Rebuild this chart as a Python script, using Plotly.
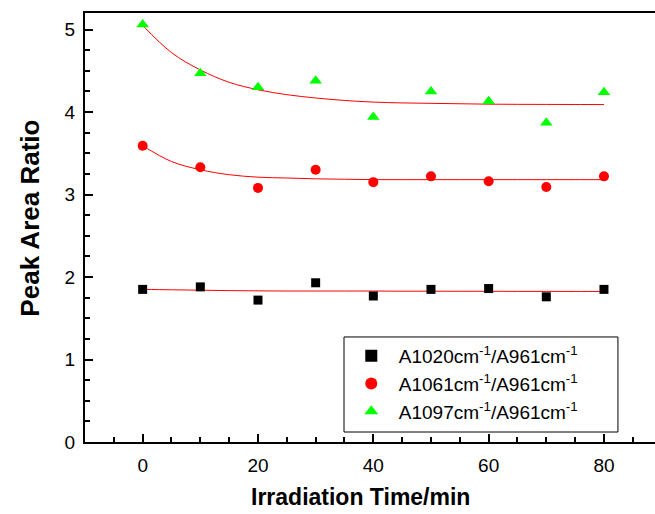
import plotly.graph_objects as go

time_min = [0, 10, 20, 30, 40, 50, 60, 70, 80]
ratio_1020 = [1.85, 1.88, 1.72, 1.93, 1.77, 1.85, 1.86, 1.76, 1.85]
ratio_1061 = [3.59, 3.33, 3.08, 3.30, 3.15, 3.22, 3.16, 3.09, 3.22]
ratio_1097 = [5.06, 4.47, 4.30, 4.38, 3.94, 4.25, 4.13, 3.87, 4.24]

# fitted curves
fit_time = [0, 5, 10, 15, 20, 25, 30, 35, 40, 45, 50, 55, 60, 65, 70, 75, 80]
fit_1020 = [1.85, 1.845, 1.84, 1.835, 1.832, 1.83, 1.83, 1.83, 1.83, 1.828, 1.828, 1.827, 1.827, 1.826, 1.826, 1.825, 1.825]
fit_1061 = [3.59, 3.40, 3.30, 3.24, 3.21, 3.20, 3.19, 3.185, 3.18, 3.18, 3.18, 3.18, 3.18, 3.18, 3.18, 3.18, 3.18]
fit_1097 = [5.05, 4.72, 4.51, 4.36, 4.27, 4.21, 4.17, 4.14, 4.12, 4.11, 4.105, 4.10, 4.095, 4.093, 4.092, 4.091, 4.09]

names = ["A1020cm<sup>-1</sup>/A961cm<sup>-1</sup>",
         "A1061cm<sup>-1</sup>/A961cm<sup>-1</sup>",
         "A1097cm<sup>-1</sup>/A961cm<sup>-1</sup>"]

fig = go.Figure()
for fit in (fit_1020, fit_1061, fit_1097):
    fig.add_trace(go.Scatter(x=fit_time, y=fit, mode="lines", line=dict(color="red", width=1, shape="spline"),
                             showlegend=False, hoverinfo="skip"))

fig.add_trace(go.Scatter(x=time_min, y=ratio_1020, mode="markers", name=names[0],
                         marker=dict(symbol="square", color="black", size=9)))
fig.add_trace(go.Scatter(x=time_min, y=ratio_1061, mode="markers", name=names[1],
                         marker=dict(symbol="circle", color="red", size=10)))
fig.add_trace(go.Scatter(x=time_min, y=ratio_1097, mode="markers", name=names[2],
                         marker=dict(symbol="triangle-up", color="#00ff00", size=11)))

fig.update_layout(
    width=655, height=514,
    margin=dict(l=85, r=0, t=13, b=72),
    paper_bgcolor="white", plot_bgcolor="white",
    font=dict(family="Liberation Sans, Arial", color="black"),
    legend=dict(x=0.454, y=0.245, xanchor="left", yanchor="top",
                borderwidth=0, bgcolor="rgba(0,0,0,0)",
                font=dict(size=19), itemsizing="constant", itemwidth=45),
    shapes=[dict(type="rect", xref="paper", yref="paper", x0=0.4544, x1=0.935, y0=0.0233, y1=0.2448,
                 line=dict(color="black", width=1), fillcolor="white", layer="below")],
    xaxis=dict(range=[-10, 88.85], tickvals=[0, 20, 40, 60, 80], ticks="inside", ticklen=8, tickwidth=1.5,
               tickcolor="black", showline=True, linecolor="black", linewidth=2, mirror=True,
               showgrid=False, zeroline=False, tickfont=dict(size=19), automargin=False,
               ticklabelstandoff=5,
               minor=dict(dtick=5, tick0=0, ticks="inside", ticklen=5, tickwidth=1.5, tickcolor="black")),
    yaxis=dict(range=[0, 5.2], tickvals=[0, 1, 2, 3, 4, 5], ticks="inside", ticklen=8, tickwidth=1.5,
               tickcolor="black", showline=True, linecolor="black", linewidth=2, mirror=False,
               showgrid=False, zeroline=False, tickfont=dict(size=19), automargin=False,
               ticklabelstandoff=4,
               minor=dict(dtick=0.25, tick0=0, ticks="inside", ticklen=5, tickwidth=1.5, tickcolor="black")),
    annotations=[dict(text="<b>Irradiation Time/min</b>", xref="paper", yref="paper",
                      x=0.484, y=-0.128, xanchor="center", yanchor="middle",
                      showarrow=False, font=dict(size=23)),
                 dict(text="<b>Peak Area Ratio</b>", xref="paper", yref="paper", textangle=-90,
                      x=-0.0965, y=0.523, xanchor="center", yanchor="middle",
                      showarrow=False, font=dict(size=26))],
)

fig.write_html("out.html", config={"displayModeBar": False},
               post_script="document.body.style.margin='0';document.body.style.overflow='hidden';")
